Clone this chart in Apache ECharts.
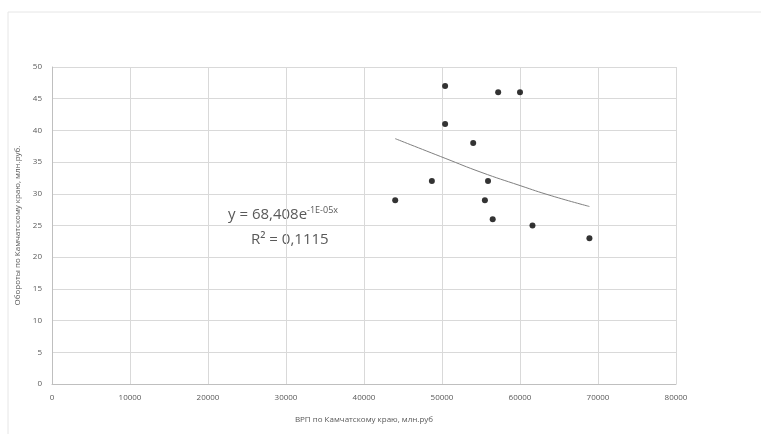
<!DOCTYPE html>
<html>
<head>
<meta charset="utf-8">
<script src="https://cdn.jsdelivr.net/npm/echarts@6/dist/echarts.min.js"></script>
<style>
  html, body { margin: 0; padding: 0; background: #fff; }
  #chart { width: 761px; height: 434px; }
</style>
</head>
<body>
<div id="chart"></div>
<script>
// GRP (x) vs turnover (y)
const grpValues = [50400, 57200, 60000, 50400, 54000, 48700, 55900, 44000, 55500, 56500, 61600, 68900]
const turnoverValues = [47, 46, 46, 41, 38, 32, 32, 29, 29, 26, 25, 23]
// exponential trend line
const trendX = [44000, 50400, 55000, 60000, 64000, 68900]
const trendY = [38.7, 35.6, 33.4, 31.3, 29.7, 28.0]

const points = grpValues.map((x, i) => [x, turnoverValues[i]])
const trend = trendX.map((x, i) => [x, trendY[i]])

const textColor = '#595959'
const gridColor = '#d9d9d9'

const myChart = echarts.init(document.getElementById('chart'))
myChart.setOption({
  animation: false,
  backgroundColor: '#fff',
  grid: { left: 52, right: 85, top: 67, bottom: 50 },
  xAxis: {
    type: 'value',
    min: 0,
    max: 80000,
    interval: 10000,
    name: 'ВРП по Камчатскому краю, млн.руб',
    nameLocation: 'middle',
    nameGap: 32,
    nameTextStyle: { color: textColor, fontSize: 8, fontFamily: 'Open Sans' },
    axisLine: { lineStyle: { color: '#bfbfbf' } },
    axisTick: { show: false },
    axisLabel: { color: textColor, fontSize: 8, fontFamily: 'Open Sans', margin: 10, formatter: v => String(v) },
    splitLine: { show: true, lineStyle: { color: gridColor } }
  },
  yAxis: {
    type: 'value',
    min: 0,
    max: 50,
    interval: 5,
    name: 'Обороты по Камчатскому краю, млн.руб.',
    nameLocation: 'middle',
    nameGap: 26,
    nameTextStyle: { color: textColor, fontSize: 8, fontFamily: 'Open Sans' },
    axisLine: { show: true, lineStyle: { color: '#bfbfbf' } },
    axisTick: { show: false },
    axisLabel: { color: textColor, fontSize: 8, fontFamily: 'Open Sans', margin: 10 },
    splitLine: { show: true, lineStyle: { color: gridColor } }
  },
  graphic: [
    {
      type: 'rect',
      shape: { x: 8, y: 12, width: 760, height: 430 },
      style: { fill: 'none', stroke: '#e6e6e6', lineWidth: 1 },
      silent: true
    },
    {
      type: 'text',
      left: 228,
      top: 206,
      style: {
        text: '{m|y = 68,408e}{s|-1E-05x}',
        rich: {
          m: { fontSize: 15, fill: textColor, fontFamily: 'Open Sans' },
          s: { fontSize: 9, fill: textColor, fontFamily: 'Open Sans', verticalAlign: 'top', padding: [0, 0, 8, 0] }
        }
      }
    },
    {
      type: 'text',
      left: 251,
      top: 232,
      style: {
        text: 'R² = 0,1115',
        fontSize: 15,
        fill: textColor,
        fontFamily: 'Open Sans'
      }
    }
  ],
  series: [
    {
      type: 'line',
      data: trend,
      smooth: true,
      symbol: 'none',
      lineStyle: { color: '#808080', width: 1 },
      z: 1
    },
    {
      type: 'scatter',
      data: points,
      symbolSize: 6,
      itemStyle: { color: '#000' },
      z: 2
    }
  ]
})
</script>
</body>
</html>
